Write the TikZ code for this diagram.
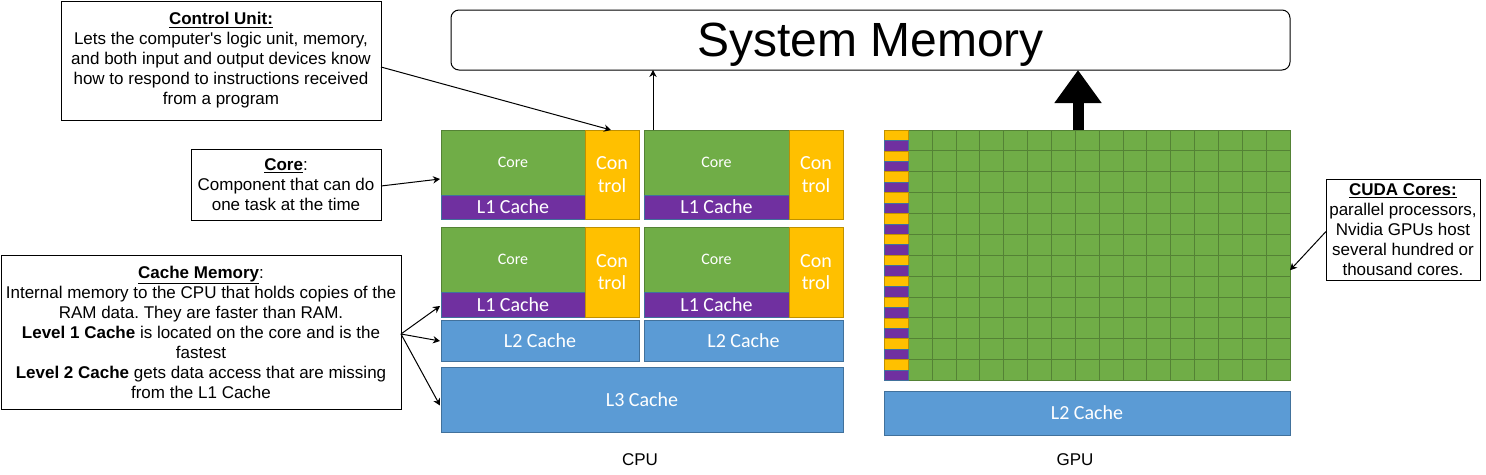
\documentclass[tikz,border=0pt]{standalone}
\usepackage{fontspec}
\setmainfont{Liberation Sans}
\newfontfamily\calfont{Carlito}
\usetikzlibrary{arrows.meta,calc}
\definecolor{cgreen}{HTML}{70AD47}
\definecolor{gstroke}{HTML}{548235}
\definecolor{cpurple}{HTML}{7030A0}
\definecolor{cyellow}{HTML}{FFC000}
\definecolor{ystroke}{HTML}{BF9000}
\definecolor{cblue}{HTML}{5B9BD5}
\definecolor{bstroke}{HTML}{41719C}
\newcommand\pbox[7]{\node[#2, minimum width={(#5-#3)*0.75pt}, minimum height={(#6-#4)*0.75pt}] (#1) at ({(#3+#5)/2},{(#4+#6)/2}) {#7};}
\frenchspacing
\begin{document}
\begin{tikzpicture}[x=0.75pt,y=-0.75pt,
  blk/.style={inner sep=0pt, outer sep=0pt, line width=0.75pt, text=white, align=center},
  corebox/.style={blk, draw=gstroke, fill=cgreen, font=\calfont\fontsize{12}{14}\selectfont},
  l1box/.style={blk, draw=bstroke, fill=cpurple, font=\calfont\fontsize{15}{18}\selectfont},
  ctrlbox/.style={blk, draw=ystroke, fill=cyellow, font=\calfont\fontsize{15}{17}\selectfont},
  cachebox/.style={blk, draw=bstroke, fill=cblue, font=\calfont\fontsize{15}{18}\selectfont},
  callout/.style={draw=black, fill=white, line width=0.75pt, inner sep=0pt, outer sep=0pt, align=center, font=\fontsize{12.75}{15}\selectfont},
  conn/.style={-{Stealth[length=5.25pt,width=5.5pt]}, line width=0.75pt},
  lbl/.style={font=\fontsize{12.75}{15}\selectfont}]
\useasboundingbox (0,0) rectangle (1486,475);

% System memory
\pbox{sysmem}{draw=black, line width=0.75pt, rounded corners=6pt, inner sep=0pt, outer sep=0pt, font=\fontsize{36}{40}\selectfont}{451}{10}{1290}{70}{\raisebox{-3.5pt}[\height][\depth]{System Memory}}

% CPU row 1
\pbox{coreA}{corebox}{441}{130}{585}{195}{Core}
\pbox{l1A}{l1box}{441}{195}{585}{219}{L1 Cache}
\pbox{ctrlA}{ctrlbox}{585}{130}{639}{219}{Con\\trol}
\pbox{coreB}{corebox}{644}{130}{789}{195}{Core}
\pbox{l1B}{l1box}{644}{195}{789}{219}{L1 Cache}
\pbox{ctrlB}{ctrlbox}{789}{130}{843}{219}{Con\\trol}
% CPU row 2
\pbox{coreC}{corebox}{441}{227}{585}{292}{Core}
\pbox{l1C}{l1box}{441}{292}{585}{317}{L1 Cache}
\pbox{ctrlC}{ctrlbox}{585}{227}{639}{317}{Con\\trol}
\pbox{coreD}{corebox}{644}{227}{789}{292}{Core}
\pbox{l1D}{l1box}{644}{292}{789}{317}{L1 Cache}
\pbox{ctrlD}{ctrlbox}{789}{227}{843}{317}{Con\\trol}
% caches
\pbox{l2A}{cachebox}{441}{320}{639}{361}{L2 Cache}
\pbox{l2B}{cachebox}{644}{320}{843}{361}{L2 Cache}
\pbox{l3}{cachebox}{441}{367}{843}{432}{L3 Cache}

% GPU grid
\fill[cgreen] (908.3,130) rectangle (1290,380.5);
\foreach \c in {0,...,16} {
  \draw[gstroke, line width=0.75pt] ({908.3+\c*23.856},130) -- ({908.3+\c*23.856},380.5);
}
\foreach \r in {0,...,12} {
  \draw[gstroke, line width=0.75pt] (908.3,{130+\r*20.875}) -- (1290,{130+\r*20.875});
}
\foreach \r in {0,...,11} {
  \filldraw[fill=cyellow, draw=ystroke, line width=0.5pt] (884,{130+\r*20.875}) rectangle (908.3,{130+\r*20.875+10.4});
  \filldraw[fill=cpurple, draw=bstroke, line width=0.5pt] (884,{130+\r*20.875+10.4}) rectangle (908.3,{130+(\r+1)*20.875});
}
\pbox{gpu}{inner sep=0pt, outer sep=0pt}{884}{130}{1290}{380.5}{}
\pbox{gl2}{cachebox}{884}{391}{1290}{435}{L2 Cache}

% labels
\node[lbl] (cpulbl) at (640,460) {CPU};
\node[lbl] (gpulbl) at (1075,460) {GPU};

% callouts
\pbox{cu}{callout}{61}{1}{381}{120}{\underline{\textbf{Control Unit:}}\\Lets the computer\textquotesingle s logic unit, memory,\\and both input and output devices know\\how to respond to instructions received\\from a program}
\pbox{corecall}{callout}{191}{149}{381}{220}{\underline{\textbf{Core}}:\\Component that can do\\one task at the time}
\pbox{cm}{callout}{1}{255}{401}{409}{\underline{\textbf{Cache Memory}}:\\Internal memory to the CPU that holds copies of the\\RAM data. They are faster than RAM.\\\textbf{Level 1 Cache} is located on the core and is the\\fastest\\\textbf{Level 2 Cache} gets data access that are missing\\from the L1 Cache}
\pbox{cuda}{callout}{1326}{179}{1480}{280}{\underline{\textbf{CUDA Cores:}}\\parallel processors,\\Nvidia GPUs host\\several hundred or\\thousand cores.}

% connectors
\coordinate (thinx) at (653,0);
\coordinate (bigx) at (1078,0);
\draw[conn] (coreB.north -| thinx) -- (sysmem.south -| thinx);
\draw[line width=8.25pt, -{Triangle[length=24.75pt,width=33.75pt]}] (gpu.north -| bigx) -- (sysmem.south -| bigx);
\draw[conn] ($(cu.east)+(0,6.5)$) -- ($(ctrlA.north)+(-1,0)$);
\draw[conn] ($(corecall.east)+(0,1.5)$) -- ($(coreA.west)+(-1,16.5)$);
\draw[conn] ($(cm.east)+(0,2)$) -- ($(l1C.west)+(-1,1.5)$);
\draw[conn] ($(cm.east)+(0,2)$) -- ($(l2A.west)+(-1,0.5)$);
\draw[conn] ($(cm.east)+(0,2)$) -- ($(l3.west)+(-1,6)$);
\draw[conn] ($(cuda.west)+(0,2)$) -- ($(gpu.east)+(0,15)$);
\end{tikzpicture}
\end{document}
